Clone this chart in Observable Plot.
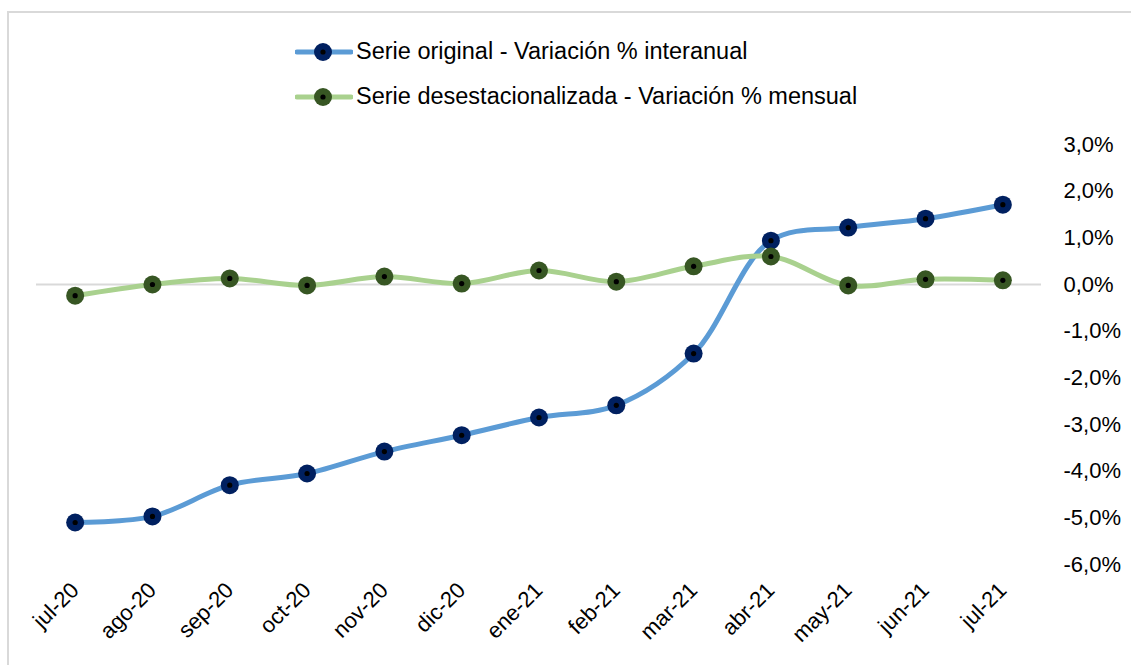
<!DOCTYPE html>
<html>
<head>
<meta charset="utf-8">
<script src="https://cdn.jsdelivr.net/npm/d3@7"></script>
<script src="https://cdn.jsdelivr.net/npm/@observablehq/plot@0.6"></script>
<style>
  html, body { margin: 0; padding: 0; background: #fff; }
  #wrap { position: relative; width: 1131px; height: 665px; overflow: hidden; font-family: "Liberation Sans", Arial, sans-serif; }
  #frame { position: absolute; left: 7px; top: 11px; width: 1140px; height: 680px; border: 2px solid #d9d9d9; box-sizing: border-box; }
  #legend { position: absolute; left: 295px; top: 29px; font-size: 23.5px; color: #000; }
  .item { display: flex; align-items: center; height: 45px; }
  .item svg { margin-right: 3px; flex: none; }
  #chart { position: absolute; left: 0; top: 0; }
</style>
</head>
<body>
<div id="wrap">
  <div id="frame"></div>
  <div id="chart"></div>
  <div id="legend"></div>
</div>
<script>
const meses = ["jul-20","ago-20","sep-20","oct-20","nov-20","dic-20","ene-21","feb-21","mar-21","abr-21","may-21","jun-21","jul-21"];
const serieOriginal = [-5.10, -4.97, -4.30, -4.05, -3.58, -3.23, -2.85, -2.59, -1.48, 0.94, 1.22, 1.41, 1.71];
const serieDesest = [-0.24, 0.00, 0.13, -0.02, 0.17, 0.02, 0.30, 0.06, 0.39, 0.60, -0.02, 0.11, 0.09];
const yTicks = [3, 2, 1, 0, -1, -2, -3, -4, -5, -6];
const seriesNames = ["Serie original - Variación % interanual", "Serie desestacionalizada - Variación % mensual"];
const lineColors = ["#5B9BD5", "#A9D18E"];
const markerColors = ["#002060", "#375623"];

const orig = meses.map((m, i) => ({i, m, v: serieOriginal[i]}));
const des = meses.map((m, i) => ({i, m, v: serieDesest[i]}));

const fmt = d => d.toFixed(1).replace(".", ",") + "%";

const plot = Plot.plot({
  width: 1131,
  height: 665,
  marginLeft: 36,
  marginRight: 90,
  marginTop: 144,
  marginBottom: 101,
  style: {fontFamily: "'Liberation Sans', Arial, sans-serif", fontSize: "22px", color: "#000", background: "transparent"},
  x: {type: "linear", domain: [-0.5, 12.5], axis: null},
  y: {domain: [-6, 3], axis: null},
  marks: [
    Plot.axisX({ticks: d3.range(meses.length), tickFormat: i => meses[i], tickRotate: -45, tickSize: 0, tickPadding: 22, label: null, fontSize: 22}),
    Plot.axisY({anchor: "right", ticks: yTicks, tickFormat: fmt, tickSize: 0, tickPadding: 22, textAnchor: "start", label: null, fontSize: 22}),
    Plot.ruleY([0], {stroke: "#d9d9d9", strokeWidth: 2}),
    Plot.line(orig, {x: "i", y: "v", stroke: lineColors[0], strokeWidth: 5, curve: "catmull-rom"}),
    Plot.line(des, {x: "i", y: "v", stroke: lineColors[1], strokeWidth: 5, curve: "catmull-rom"}),
    Plot.dot(orig, {x: "i", y: "v", r: 9, fill: markerColors[0], stroke: null}),
    Plot.dot(orig, {x: "i", y: "v", r: 2.6, fill: "#000", stroke: null}),
    Plot.dot(des, {x: "i", y: "v", r: 9, fill: markerColors[1], stroke: null}),
    Plot.dot(des, {x: "i", y: "v", r: 2.6, fill: "#000", stroke: null})
  ]
});
document.getElementById("chart").appendChild(plot);

const legend = document.getElementById("legend");
seriesNames.forEach((name, k) => {
  const div = document.createElement("div");
  div.className = "item";
  div.innerHTML = `<svg width="58" height="20"><line x1="2" y1="10" x2="56" y2="10" stroke="${lineColors[k]}" stroke-width="5" stroke-linecap="round"/><circle cx="28" cy="10" r="9" fill="${markerColors[k]}"/><circle cx="28" cy="10" r="2.6" fill="#000"/></svg><span>${name}</span>`;
  legend.appendChild(div);
});
</script>
</body>
</html>
